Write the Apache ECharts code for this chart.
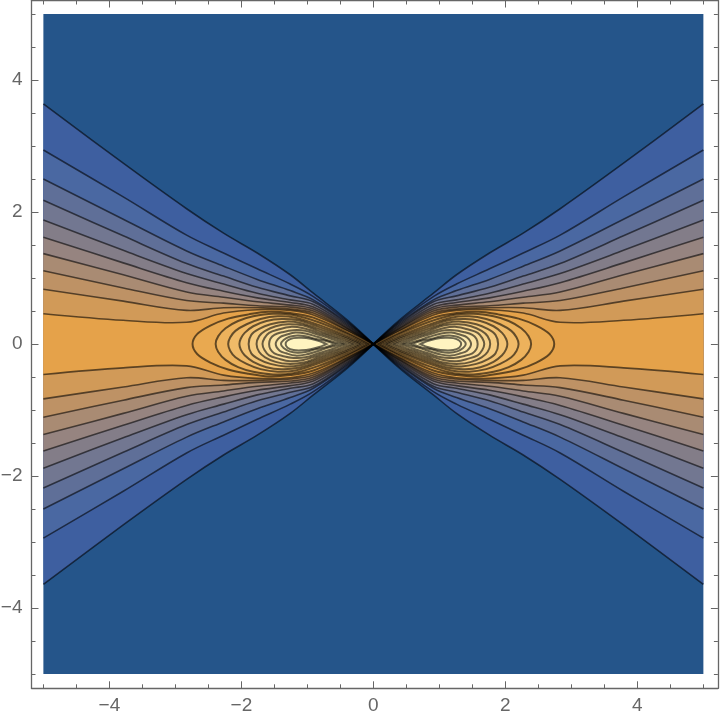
<!DOCTYPE html>
<html>
<head>
<meta charset="utf-8">
<style>html,body{margin:0;padding:0;background:#fff}#c{width:720px;height:722px}</style>
<script src="https://cdn.jsdelivr.net/npm/echarts@6/dist/echarts.min.js"></script>
</head>
<body>
<div id="c"></div>
<script>
// Upper-right quadrant; the plot is mirror symmetric.
const majorTicks = [-4, -2, 0, 2, 4];
const minorTicks = [-5,-4.5,-3.5,-3,-2.5,-1.5,-1,-0.5,0.5,1,1.5,2.5,3,3.5,4.5,5];

// Open contours: shared x columns, one y list per level (outer to inner)
const openX = [0, 0.39, 0.91, 1.26, 1.76, 2.27, 2.83, 3.79, 5];
const open1  = [0, .36, .77, 1.05, 1.38, 1.68, 2.05, 2.74, 3.64];
const open2  = [0, .34, .72, .91, 1.14, 1.38, 1.65, 2.23, 2.94];
const open3  = [0, .32, .67, .81, .98, 1.18, 1.41, 1.89, 2.50];
const open4  = [0, .30, .64, .73, .86, 1.03, 1.22, 1.64, 2.18];
const open5  = [0, .28, .60, .67, .77, .91, 1.07, 1.42, 1.88];
const open6  = [0, .26, .56, .63, .70, .80, .93, 1.23, 1.62];
const open7  = [0, .24, .53, .59, .64, .71, .79, 1.05, 1.37];
const open8  = [0, .23, .50, .56, .58, .62, .66, .85, 1.11];
const open9  = [0, .21, .47, .53, .55, .55, .51, .65, .83];
const open10 = [0, .20, .44, .51, .52, .47, .33, .36, .46];
const openLevels = [open1, open2, open3, open4, open5, open6, open7, open8, open9, open10];

// Closed contours around the peak, upper half, from the inner tip to the outer tip
const lobe0 = [[.05,0],[.39,.17],[.91,.40],[1.26,.47],[1.59,.49],[1.89,.45],[2.20,.385],[2.47,.28],[2.67,.15],[2.74,0]];
const lobe1 = [[.08,0],[.39,.15],[.83,.33],[1.21,.44],[1.52,.46],[1.82,.42],[2.05,.35],[2.24,.24],[2.35,.12],[2.39,0]];
const lobe2 = [[.12,0],[.39,.12],[.83,.29],[1.18,.40],[1.45,.42],[1.71,.38],[1.92,.30],[2.09,.20],[2.17,.10],[2.20,0]];
const lobe3 = [[.17,0],[.42,.11],[.83,.26],[1.14,.36],[1.39,.38],[1.62,.35],[1.82,.27],[1.95,.17],[2.01,.08],[2.03,0]];
const lobe4 = [[.21,0],[.45,.10],[.83,.23],[1.11,.32],[1.33,.34],[1.56,.30],[1.73,.23],[1.85,.14],[1.89,0]];
const lobe5 = [[.27,0],[.50,.09],[.83,.20],[1.06,.28],[1.29,.30],[1.48,.27],[1.64,.20],[1.73,.12],[1.77,0]];
const lobe6 = [[.33,0],[.55,.08],[.83,.17],[1.06,.24],[1.26,.26],[1.44,.22],[1.58,.17],[1.65,.09],[1.68,0]];
const lobe7 = [[.41,0],[.61,.07],[.83,.14],[1.03,.20],[1.21,.21],[1.38,.18],[1.50,.14],[1.56,.08],[1.58,0]];
const lobe8 = [[.48,0],[.67,.05],[.85,.11],[1.03,.16],[1.18,.175],[1.32,.14],[1.42,.10],[1.48,0]];
const lobe9 = [[.58,0],[.73,.05],[.88,.08],[1.03,.12],[1.15,.13],[1.27,.11],[1.36,.06],[1.40,0]];
const lobe10 = [[.71,0],[.82,.045],[.95,.08],[1.09,.095],[1.21,.09],[1.30,.055],[1.33,0]];
const lobeLevels = [lobe0, lobe1, lobe2, lobe3, lobe4, lobe5, lobe6, lobe7, lobe8, lobe9, lobe10];

// Band colours
const baseColor = '#25558a';
const openColors = ['#3e5fa0','#4a68a2','#5f6f98','#727791','#837d88','#968480','#a98b73','#be9265','#d19a58','#e5a24a'];
const lobeColors = ['#e9a950','#edb25c','#f0ba68','#f3c374','#f5cb80','#f7d38d','#f9db99','#fbe3a5','#fce9ae','#feefb8','#fff4c0'];

const lineColor = 'rgba(0,0,0,0.58)';
const smoothness = 0.35;

const openPts = ys => ys.map((y, i) => [openX[i], y]);
const flip = (pts, sx, sy) => pts.map(p => [p[0] * sx, p[1] * sy]);
const rev = pts => pts.slice().reverse();

// Fill items
const fills = [];
fills.push({ color: baseColor, pts: [[-5,5],[-5,5],[5,5],[5,5],[5,-5],[5,-5],[-5,-5],[-5,-5]] });
openLevels.forEach((ys, i) => {
  const u = openPts(ys), n = u.length - 1;
  const e = u[n];
  const pts = [].concat(
    [[0,0]], u.slice(1), [e],
    [[e[0],-e[1]]], rev(flip(u, 1, -1)), [[0,0]],
    flip(u, -1, -1).slice(1), [[-e[0],-e[1]]],
    [[-e[0],e[1]]], rev(flip(u, -1, 1))
  );
  fills.push({ color: openColors[i], pts });
});
lobeLevels.forEach((l, i) => {
  [1, -1].forEach(sx => {
    const up = flip(l, sx, 1);
    const down = rev(flip(l, sx, -1)).slice(1);
    const pts = [up[0]].concat(up, down);
    fills.push({ color: lobeColors[i], pts });
  });
});

// Stroke items
const strokes = [];
openLevels.forEach(ys => {
  const u = openPts(ys);
  [[1,1],[1,-1],[-1,-1],[-1,1]].forEach(s => strokes.push({ closed: false, pts: flip(u, s[0], s[1]), w: 1.6 }));
});
lobeLevels.forEach(l => {
  [1, -1].forEach(sx => {
    const up = flip(l, sx, 1);
    const down = rev(flip(l, sx, -1)).slice(1);
    strokes.push({ closed: true, pts: [up[0]].concat(up, down), w: 2 });
  });
});

const gridRect = { left: 31.5, top: 0.5, width: 686.4, height: 687.8, outerBoundsMode: 'none' };
const xRange = { min: -5.18, max: 5.22 };
const yRange = { min: -5.215, max: 5.205 };
const axisGray = '#666666';
const minusFmt = v => String(v).replace('-', '\u2212');

function axisX(gridIndex, position, ticks, len, labels, lineOn) {
  return Object.assign({
    type: 'value', gridIndex, position,
    axisLine: { show: lineOn, onZero: false, lineStyle: { color: axisGray, width: 1.3 } },
    axisTick: { show: true, inside: true, length: len, customValues: ticks, lineStyle: { color: axisGray, width: 1 } },
    axisLabel: labels ? { show: true, customValues: ticks, formatter: minusFmt, color: axisGray, fontSize: 19, fontFamily: 'Liberation Sans', margin: 8 } : { show: false },
    splitLine: { show: false }
  }, xRange);
}
function axisY(gridIndex, position, ticks, len, labels, lineOn) {
  return Object.assign({
    type: 'value', gridIndex, position,
    axisLine: { show: lineOn, onZero: false, lineStyle: { color: axisGray, width: 1.3 } },
    axisTick: { show: true, inside: true, length: len, customValues: ticks, lineStyle: { color: axisGray, width: 1 } },
    axisLabel: labels ? { show: true, customValues: ticks, formatter: minusFmt, color: axisGray, fontSize: 19, fontFamily: 'Liberation Sans', margin: 9 } : { show: false },
    splitLine: { show: false }
  }, yRange);
}

const chart = echarts.init(document.getElementById('c'), null, { renderer: 'canvas' });
chart.setOption({
  animation: false,
  backgroundColor: '#ffffff',
  grid: [Object.assign({}, gridRect), Object.assign({}, gridRect)],
  xAxis: [
    axisX(0, 'bottom', majorTicks, 7, true, true),
    axisX(0, 'top', majorTicks, 7, false, true),
    axisX(1, 'bottom', minorTicks, 4, false, false),
    axisX(1, 'top', minorTicks, 4, false, false)
  ],
  yAxis: [
    axisY(0, 'left', majorTicks, 7, true, true),
    axisY(0, 'right', majorTicks, 7, false, true),
    axisY(1, 'left', minorTicks, 4, false, false),
    axisY(1, 'right', minorTicks, 4, false, false)
  ],
  series: [
    {
      type: 'custom', xAxisIndex: 0, yAxisIndex: 0, clip: false, silent: true, z: 2,
      data: fills.map((f, i) => [i]),
      encode: { x: 0 },
      renderItem(params, api) {
        const f = fills[params.dataIndex];
        return { type: 'polygon', shape: { points: f.pts.map(p => api.coord(p)), smooth: smoothness }, style: { fill: f.color, stroke: null } };
      }
    },
    {
      type: 'custom', xAxisIndex: 0, yAxisIndex: 0, clip: false, silent: true, z: 3,
      data: strokes.map((s, i) => [i]),
      encode: { x: 0 },
      renderItem(params, api) {
        const s = strokes[params.dataIndex];
        return { type: s.closed ? 'polygon' : 'polyline', shape: { points: s.pts.map(p => api.coord(p)), smooth: smoothness }, style: { fill: null, stroke: lineColor, lineWidth: s.w } };
      }
    }
  ]
});
</script>
</body>
</html>
